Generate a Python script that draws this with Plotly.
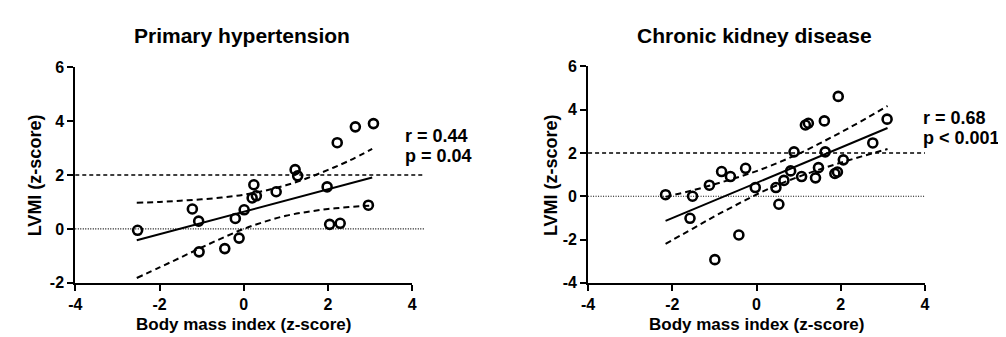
import plotly.graph_objects as go

# ---------------- data ----------------
titles = ["Primary hypertension", "Chronic kidney disease"]
x_title = "Body mass index (z-score)"
y_title = "LVMI (z-score)"
x_ticks = [-4, -2, 0, 2, 4]
y_ticks_left = [-2, 0, 2, 4, 6]
y_ticks_right = [-4, -2, 0, 2, 4, 6]

# Primary hypertension scatter
ht_bmi = [-2.52, -1.22, -1.07, -1.06, -0.45, -0.20, -0.11, 0.01, 0.24, 0.20, 0.30,
          0.77, 1.22, 1.28, 1.98, 2.04, 2.29, 2.22, 2.65, 3.08, 2.96]
ht_lvmi = [-0.05, 0.74, 0.29, -0.85, -0.73, 0.39, -0.34, 0.71, 1.64, 1.15, 1.23,
           1.38, 2.20, 1.97, 1.56, 0.17, 0.21, 3.20, 3.79, 3.91, 0.88]
ht_fit_x = [-2.54, 3.05]
ht_fit_y = [-0.42, 1.91]
ht_band_x = [-2.54, -2.0, -1.5, -1.0, -0.5, 0.0, 0.5, 1.0, 1.5, 2.0, 2.5, 3.05]
ht_band_hi = [0.97, 1.00, 1.05, 1.10, 1.17, 1.27, 1.42, 1.62, 1.88, 2.19, 2.53, 2.97]
ht_band_lo = [-1.82, -1.43, -1.06, -0.69, -0.33, 0.00, 0.27, 0.49, 0.63, 0.74, 0.81, 0.87]
ht_stats = ["r = 0.44", "p = 0.04"]

# Chronic kidney disease scatter
ckd_bmi = [-2.16, -1.52, -1.58, -1.12, -0.83, -0.62, -0.26, -0.03, 0.53, -0.42, -0.99,
           0.46, 0.65, 0.81, 0.89, 1.07, 1.16, 1.23, 1.40, 1.47, 1.61, 1.63, 1.94,
           1.86, 1.92, 2.06, 2.76, 3.10]
ckd_lvmi = [0.07, 0.00, -1.02, 0.51, 1.14, 0.91, 1.29, 0.40, -0.37, -1.79, -2.93,
            0.40, 0.73, 1.17, 2.05, 0.91, 3.29, 3.37, 0.85, 1.32, 3.48, 2.05, 4.61,
            1.05, 1.12, 1.68, 2.46, 3.56]
ckd_fit_x = [-2.16, 3.11]
ckd_fit_y = [-1.14, 3.15]
ckd_band_x = [-2.16, -1.5, -1.0, -0.5, 0.0, 0.5, 1.0, 1.5, 2.0, 2.5, 3.11]
ckd_band_hi = [-0.03, 0.28, 0.55, 0.84, 1.16, 1.54, 1.96, 2.44, 2.95, 3.48, 4.17]
ckd_band_lo = [-2.20, -1.48, -0.93, -0.42, 0.08, 0.52, 0.90, 1.24, 1.55, 1.84, 2.18]
ckd_stats = ["r = 0.68", "p < 0.001"]

# ---------------- figure ----------------
W, H = 1006, 337
FONT = "Arial, 'Liberation Sans', Helvetica, sans-serif"
BLACK = "#000000"

fig = go.Figure()

def add_panel(xa, ya, bx, ly, fx, fy, bandx, hi, lo):
    kw = dict(xaxis=xa, yaxis=ya, showlegend=False, hoverinfo="skip")
    fig.add_trace(go.Scatter(x=bandx, y=hi, mode="lines", line=dict(color=BLACK, width=2, dash="6px,4px", shape="spline"), **kw))
    fig.add_trace(go.Scatter(x=bandx, y=lo, mode="lines", line=dict(color=BLACK, width=2, dash="6px,4px", shape="spline"), **kw))
    fig.add_trace(go.Scatter(x=fx, y=fy, mode="lines", line=dict(color=BLACK, width=2), **kw))
    fig.add_trace(go.Scatter(x=bx, y=ly, mode="markers",
                             marker=dict(symbol="circle-open", size=9, color=BLACK, line=dict(width=2.6, color=BLACK)), **kw))

add_panel("x", "y", ht_bmi, ht_lvmi, ht_fit_x, ht_fit_y, ht_band_x, ht_band_hi, ht_band_lo)
add_panel("x2", "y2", ckd_bmi, ckd_lvmi, ckd_fit_x, ckd_fit_y, ckd_band_x, ckd_band_hi, ckd_band_lo)

def px_x(p):
    return p / W

def px_y(p):
    return 1 - p / H

def labels(vals):
    return [str(v) for v in vals]  # plain hyphen-minus like the reference

tickfont = dict(family=FONT, size=16, color=BLACK, weight="bold")
axis_common = dict(showgrid=False, zeroline=False, showline=True, linecolor=BLACK, linewidth=2,
                   ticks="outside", ticklen=6, tickwidth=2, tickcolor=BLACK, tickfont=tickfont,
                   fixedrange=True)

fig.update_layout(
    width=W, height=H, margin=dict(l=0, r=0, t=0, b=0),
    paper_bgcolor="white", plot_bgcolor="white",
    xaxis=dict(domain=[px_x(61), px_x(402)], range=[-4, 4], tickvals=x_ticks, ticktext=labels(x_ticks), anchor="y", **axis_common),
    yaxis=dict(domain=[px_y(281), px_y(54)], range=[-2, 6], tickvals=y_ticks_left, ticktext=labels(y_ticks_left), anchor="x", **axis_common),
    xaxis2=dict(domain=[px_x(580), px_x(921)], range=[-4, 4], tickvals=x_ticks, ticktext=labels(x_ticks), anchor="y2", **axis_common),
    yaxis2=dict(domain=[px_y(281), px_y(53)], range=[-4, 6], tickvals=y_ticks_right, ticktext=labels(y_ticks_right), anchor="x2", **axis_common),
)

# reference lines at 0 (dotted) and 2 (dashed)
for xr, yr, xend in [("x domain", "y", 1.035), ("x2 domain", "y2", 1.0)]:
    fig.add_shape(type="line", xref=xr, yref=yr, x0=0, x1=xend, y0=2, y1=2,
                  line=dict(color=BLACK, width=1.6, dash="4px,3px"))
    fig.add_shape(type="line", xref=xr, yref=yr, x0=0, x1=xend, y0=0, y1=0,
                  line=dict(color=BLACK, width=1.2, dash="1px,1.5px"))

ann_font = lambda s: dict(family=FONT, size=s, color=BLACK, weight="bold")

# titles
for t, cx in zip(titles, [230, 748]):
    fig.add_annotation(text=t, xref="paper", yref="paper", x=px_x(cx), y=px_y(21),
                       xanchor="center", yanchor="middle", showarrow=False, font=ann_font(21))

# axis titles
for cx in [231, 750]:
    fig.add_annotation(text=x_title, xref="paper", yref="paper", x=px_x(cx), y=px_y(325),
                       xanchor="center", yanchor="middle", showarrow=False, font=ann_font(17))
for cx in [20, 542]:
    fig.add_annotation(text=y_title, xref="paper", yref="paper", x=px_x(cx), y=px_y(168),
                       xanchor="center", yanchor="middle", textangle=-90, showarrow=False, font=ann_font(18))

# stats text
for stats, lx, ys in [(ht_stats, 393, [126, 147]), (ckd_stats, 917, [107, 128])]:
    for s, yy in zip(stats, ys):
        fig.add_annotation(text=s, xref="paper", yref="paper", x=px_x(lx), y=px_y(yy),
                           xanchor="left", yanchor="middle", showarrow=False, font=ann_font(18))

fig.write_html("out.html")
